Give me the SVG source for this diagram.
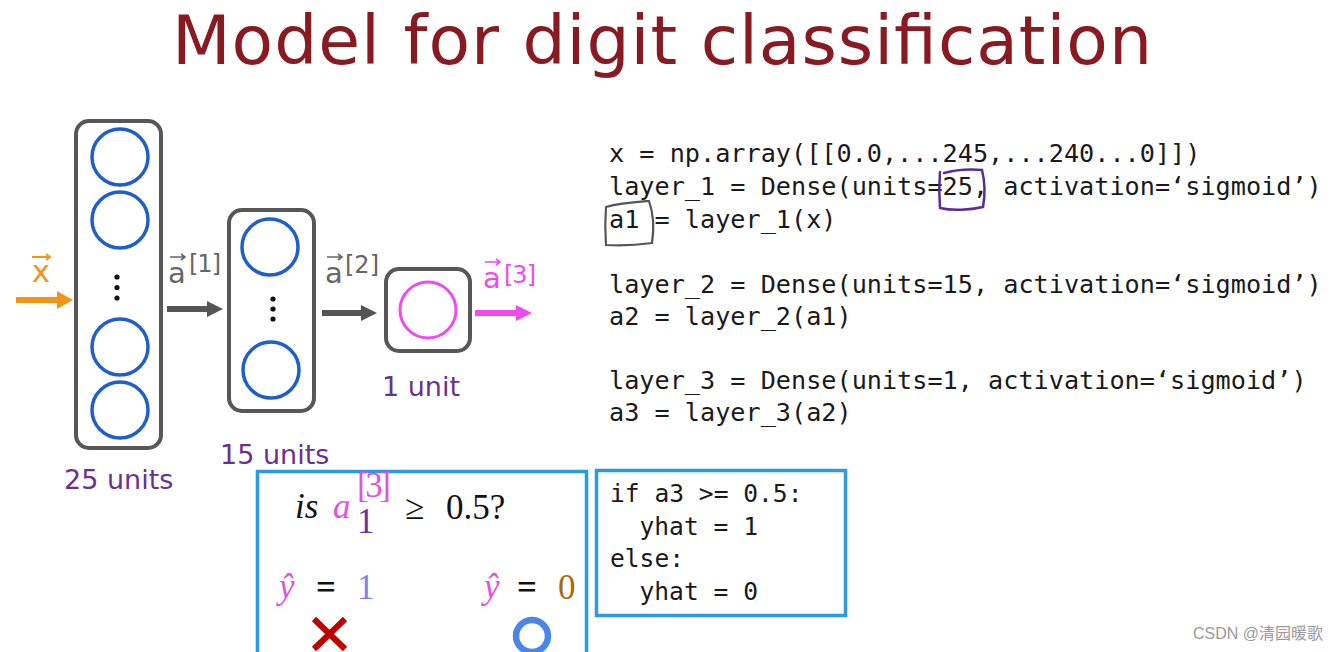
<svg xmlns="http://www.w3.org/2000/svg" width="1344" height="652" viewBox="0 0 1344 652">
<style>
.title{font-family:"DejaVu Sans","Liberation Sans",sans-serif;font-size:68px;fill:#8a1a22}
.layerbox{fill:none;stroke:#575757;stroke-width:4}
.unit{fill:none;stroke:#1e5fcc;stroke-width:3.5}
.dot{fill:#111}
.lbl{font-family:"DejaVu Sans","Liberation Sans",sans-serif;font-size:27px;fill:#6a3093}
.vec{font-family:"DejaVu Sans","Liberation Sans",sans-serif}
.code{font-family:"DejaVu Sans Mono","Liberation Mono",monospace;font-size:25.2px;fill:#1a1a1a}
.code2{font-family:"DejaVu Sans Mono","Liberation Mono",monospace;font-size:24.6px;fill:#1a1a1a}
.math{font-family:"Liberation Serif","DejaVu Serif",serif;font-size:35px}
.it{font-style:italic}
.eq{font-weight:bold}
.bluebox{fill:none;stroke:#2a9be2;stroke-width:3.5}
</style>
<defs>
<marker id="ah-orange" markerUnits="userSpaceOnUse" markerWidth="18" markerHeight="20" refX="1" refY="9" orient="auto"><path d="M0,0 L16,9 L0,18 z" fill="#f39419"/></marker>
<marker id="ah-gray" markerUnits="userSpaceOnUse" markerWidth="18" markerHeight="20" refX="1" refY="8" orient="auto"><path d="M0,0 L16,8 L0,16 z" fill="#555"/></marker>
<marker id="ah-mag" markerUnits="userSpaceOnUse" markerWidth="18" markerHeight="20" refX="1" refY="8" orient="auto"><path d="M0,0 L16,8 L0,16 z" fill="#ee4bee"/></marker>
</defs>
<rect width="1344" height="652" fill="#ffffff"/>

<text class="title" x="662" y="64" text-anchor="middle" textLength="980">Model for digit classification</text>

<g id="layer1">
<rect class="layerbox" x="76" y="121" width="85" height="327" rx="13"/>
<circle class="unit" cx="120" cy="157" r="28"/>
<circle class="unit" cx="120" cy="220" r="28"/>
<circle class="dot" cx="117" cy="277" r="2.6"/>
<circle class="dot" cx="117" cy="287.5" r="2.6"/>
<circle class="dot" cx="117" cy="298" r="2.6"/>
<circle class="unit" cx="120" cy="347" r="28"/>
<circle class="unit" cx="120" cy="410" r="28"/>
<text class="lbl" x="64" y="489">25 units</text>
</g>

<g id="layer2">
<rect class="layerbox" x="229" y="210" width="85" height="201" rx="13"/>
<circle class="unit" cx="270" cy="247" r="28"/>
<circle class="dot" cx="273" cy="299" r="2.6"/>
<circle class="dot" cx="273" cy="309" r="2.6"/>
<circle class="dot" cx="273" cy="319" r="2.6"/>
<circle class="unit" cx="271" cy="370" r="28"/>
<text class="lbl" x="220" y="464">15 units</text>
</g>

<g id="layer3">
<rect class="layerbox" x="386" y="269" width="84" height="82" rx="13"/>
<circle cx="428" cy="310" r="28" fill="none" stroke="#ee4bee" stroke-width="3"/>
<text class="lbl" x="382" y="396">1 unit</text>
</g>

<g id="connectors">
<line x1="16" y1="300" x2="58" y2="300" stroke="#f39419" stroke-width="6" marker-end="url(#ah-orange)"/>
<line x1="167" y1="309" x2="208" y2="309" stroke="#555" stroke-width="6" marker-end="url(#ah-gray)"/>
<line x1="322" y1="313" x2="362" y2="313" stroke="#555" stroke-width="6" marker-end="url(#ah-gray)"/>
<line x1="475" y1="313" x2="517" y2="313" stroke="#ee4bee" stroke-width="6" marker-end="url(#ah-mag)"/>
</g>

<g id="label-x">
<text class="vec" x="41" y="282" font-size="31" fill="#f39419" text-anchor="middle">x</text>
<path d="M32,257 H50 M46,254 L50,257 L46,260" fill="none" stroke="#f39419" stroke-width="1.8"/>
</g>
<g id="label-a1">
<text class="vec" x="168" y="283" font-size="29" fill="#666">a</text>
<path d="M170,257 H185 M181,254 L185,257 L181,260" fill="none" stroke="#666" stroke-width="1.6"/>
<text class="vec" x="189" y="272" font-size="24" fill="#666" textLength="32">[1]</text>
</g>
<g id="label-a2">
<text class="vec" x="325" y="283" font-size="29" fill="#666">a</text>
<path d="M327,257 H342 M338,254 L342,257 L338,260" fill="none" stroke="#666" stroke-width="1.6"/>
<text class="vec" x="345" y="273" font-size="24" fill="#666" textLength="34">[2]</text>
</g>
<g id="label-a3">
<text class="vec" x="483" y="288" font-size="29" fill="#ee4bee">a</text>
<path d="M485,262 H500 M496,259 L500,262 L496,265" fill="none" stroke="#ee4bee" stroke-width="1.6"/>
<text class="vec" x="504" y="283" font-size="24" fill="#ee4bee" textLength="32">[3]</text>
</g>

<g id="code">
<text class="code" x="609" y="162">x = np.array([[0.0,...245,...240...0]])</text>
<text class="code" x="609" y="195">layer_1 = Dense(units=25, activation=‘sigmoid’)</text>
<text class="code" x="609" y="228">a1 = layer_1(x)</text>
<text class="code" x="609" y="293">layer_2 = Dense(units=15, activation=‘sigmoid’)</text>
<text class="code" x="609" y="325">a2 = layer_2(a1)</text>
<text class="code" x="609" y="389">layer_3 = Dense(units=1, activation=‘sigmoid’)</text>
<text class="code" x="609" y="421">a3 = layer_3(a2)</text>
<path d="M944,173 C955,170 970,169 982,170 C985,182 985,196 983,207 C970,210 952,211 940,208 C939,196 939,184 940,172" fill="none" stroke="#5a2d96" stroke-width="2.5" stroke-linecap="round"/>
<path d="M606,207 C620,203 636,202 649,201 C654,215 654,230 652,243 C638,245 620,246 606,245 C605,232 605,220 606,207" fill="none" stroke="#555" stroke-width="2.2" stroke-linecap="round"/>
</g>

<g id="decision">
<rect class="bluebox" x="257.5" y="471.5" width="329" height="200"/>
<text class="math it" x="295" y="518" fill="#111">is</text>
<text class="math it" x="333" y="518" font-size="38" fill="#e052e0">a</text>
<text class="math" x="357" y="497" font-size="21" fill="#e052e0" textLength="34">[3]</text>
<text class="math" x="357" y="533" font-size="20" fill="#7030a0">1</text>
<text class="math" x="405" y="519" fill="#111">≥</text>
<text class="math" x="446" y="519" font-size="37" fill="#111">0.5?</text>
<text class="math it" x="279" y="598" fill="#e052e0">ŷ</text>
<text class="math eq" x="316" y="599" font-size="40" fill="#111">=</text>
<text class="math" x="357" y="599" fill="#7b86f0">1</text>
<text class="math it" x="484" y="598" fill="#e052e0">ŷ</text>
<text class="math eq" x="517" y="599" font-size="40" fill="#111">=</text>
<text class="math" x="558" y="599" fill="#a86a10">0</text>
<path d="M314,619 L345,649 M345,619 L314,649" stroke="#c00000" stroke-width="6"/>
<circle cx="532" cy="636" r="16" fill="none" stroke="#4a86e8" stroke-width="6.5"/>
</g>

<g id="code-if">
<rect class="bluebox" x="596.5" y="470.5" width="249" height="145"/>
<text class="code2" x="610" y="502">if a3 &gt;= 0.5:</text>
<text class="code2" x="639.5" y="535">yhat = 1</text>
<text class="code2" x="610" y="567">else:</text>
<text class="code2" x="639.5" y="600">yhat = 0</text>
</g>

<text x="1193" y="639" font-family="'Liberation Sans','Noto Sans CJK SC',sans-serif" font-size="16" fill="#9a9a9a">CSDN @清园暖歌</text>
</svg>
